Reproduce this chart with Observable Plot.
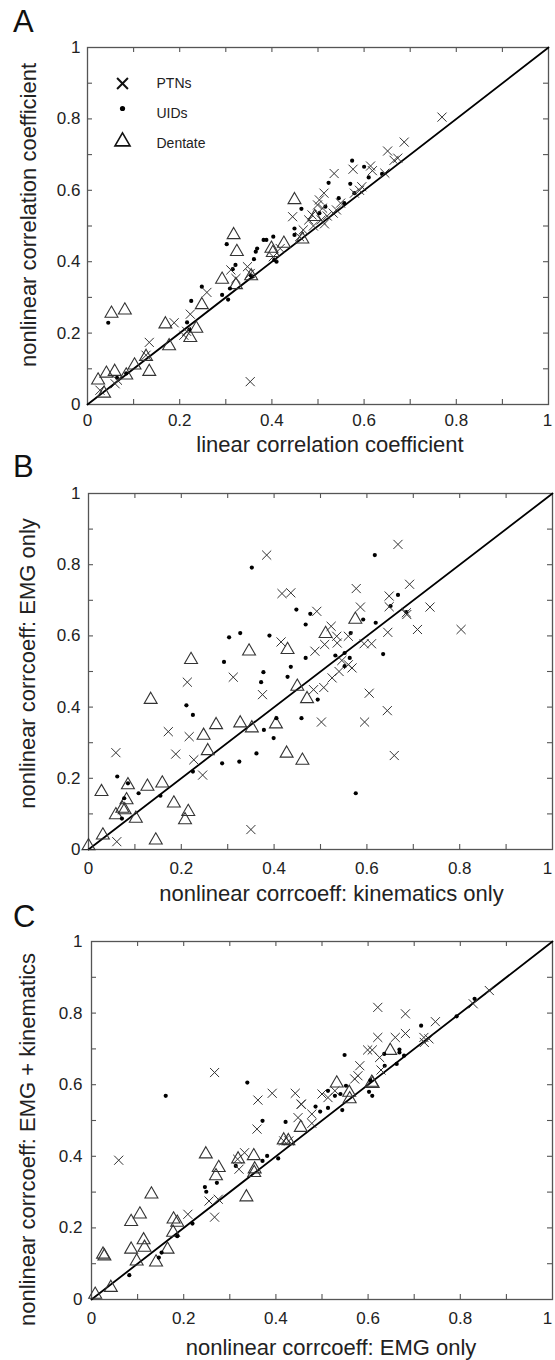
<!DOCTYPE html>
<html><head><meta charset="utf-8">
<script src="https://cdn.jsdelivr.net/npm/d3@7"></script>
<script src="https://cdn.jsdelivr.net/npm/@observablehq/plot@0.6"></script>
<style>
body{margin:0;background:#fff;}
#wrap{position:relative;width:555px;height:1360px;overflow:hidden;font-family:"Liberation Sans",Arial,sans-serif;background:#fff;}
.panel{position:absolute;left:0;}
.letter{position:absolute;font-size:31px;color:#111;line-height:1;}
</style></head><body><div id="wrap"></div>
<script>
// ---------- data ----------
const panelLetters = ["A", "B", "C"];
const xLabels = ["linear correlation coefficient", "nonlinear corrcoeff: kinematics only", "nonlinear corrcoeff: EMG only"];
const yLabels = ["nonlinear correlation coefficient", "nonlinear corrcoeff: EMG only", "nonlinear corrcoeff: EMG + kinematics"];
const legendLabels = ["PTNs", "UIDs", "Dentate"];
const ticksMajor = [0, 0.2, 0.4, 0.6, 0.8];
const ticksEnd = [1];
const ticksMinor = [0.1, 0.2, 0.3, 0.4, 0.5, 0.6, 0.7, 0.8, 0.9];
const diagonal = [0, 1];

// Panel A
const ptnA = [[0.769,0.805],[0.687,0.735],[0.651,0.710],[0.673,0.690],[0.665,0.684],[0.576,0.659],[0.614,0.668],[0.618,0.655],[0.535,0.647],[0.595,0.610],[0.579,0.592],[0.513,0.592],[0.503,0.573],[0.499,0.559],[0.510,0.550],[0.487,0.531],[0.480,0.517],[0.507,0.517],[0.514,0.506],[0.533,0.536],[0.549,0.564],[0.445,0.526],[0.468,0.489],[0.418,0.437],[0.403,0.414],[0.347,0.386],[0.353,0.367],[0.311,0.377],[0.322,0.353],[0.259,0.314],[0.223,0.253],[0.188,0.229],[0.209,0.194],[0.134,0.174],[0.127,0.138],[0.353,0.064],[0.065,0.068],[0.027,0.040],[0.645,0.648],[0.590,0.600],[0.520,0.528],[0.460,0.470],[0.490,0.500],[0.540,0.545],[0.060,0.058],[0.215,0.205]];
const uidA = [[0.574,0.683],[0.600,0.666],[0.610,0.636],[0.639,0.646],[0.523,0.621],[0.570,0.618],[0.545,0.578],[0.516,0.554],[0.464,0.548],[0.503,0.536],[0.449,0.493],[0.449,0.475],[0.403,0.470],[0.382,0.461],[0.388,0.461],[0.302,0.449],[0.368,0.437],[0.365,0.428],[0.361,0.407],[0.410,0.400],[0.321,0.391],[0.315,0.379],[0.357,0.358],[0.309,0.325],[0.248,0.330],[0.292,0.307],[0.305,0.294],[0.225,0.290],[0.216,0.230],[0.221,0.210],[0.045,0.229],[0.064,0.075],[0.084,0.087],[0.579,0.592],[0.557,0.564],[0.405,0.405],[0.354,0.362]];
const dentA = [[0.449,0.573],[0.317,0.475],[0.324,0.428],[0.292,0.350],[0.322,0.335],[0.355,0.360],[0.426,0.451],[0.399,0.437],[0.466,0.463],[0.248,0.279],[0.169,0.225],[0.236,0.213],[0.223,0.187],[0.177,0.164],[0.052,0.255],[0.081,0.264],[0.134,0.092],[0.102,0.110],[0.127,0.134],[0.059,0.092],[0.041,0.087],[0.023,0.068],[0.084,0.082],[0.036,0.031],[0.493,0.526],[0.402,0.425]];

// Panel B
const ptnB = [[0.384,0.827],[0.667,0.857],[0.692,0.745],[0.417,0.719],[0.436,0.721],[0.577,0.733],[0.586,0.681],[0.648,0.712],[0.648,0.682],[0.736,0.681],[0.686,0.660],[0.492,0.669],[0.709,0.618],[0.803,0.618],[0.523,0.627],[0.535,0.599],[0.536,0.580],[0.509,0.576],[0.560,0.599],[0.645,0.610],[0.594,0.578],[0.610,0.578],[0.415,0.583],[0.488,0.557],[0.568,0.510],[0.540,0.500],[0.525,0.482],[0.507,0.455],[0.485,0.449],[0.560,0.519],[0.546,0.531],[0.312,0.484],[0.213,0.470],[0.375,0.435],[0.605,0.439],[0.644,0.390],[0.502,0.358],[0.595,0.358],[0.172,0.331],[0.217,0.317],[0.227,0.252],[0.188,0.268],[0.246,0.209],[0.059,0.272],[0.659,0.264],[0.061,0.022],[0.350,0.056],[0.685,0.665]];
const uidB = [[0.352,0.792],[0.617,0.827],[0.667,0.715],[0.448,0.674],[0.478,0.662],[0.468,0.632],[0.592,0.646],[0.619,0.637],[0.651,0.684],[0.685,0.667],[0.303,0.596],[0.327,0.608],[0.390,0.601],[0.292,0.527],[0.377,0.498],[0.372,0.470],[0.436,0.513],[0.429,0.485],[0.468,0.538],[0.532,0.545],[0.552,0.552],[0.565,0.608],[0.563,0.538],[0.552,0.515],[0.635,0.549],[0.494,0.421],[0.211,0.405],[0.225,0.378],[0.405,0.369],[0.459,0.369],[0.378,0.336],[0.399,0.313],[0.362,0.270],[0.288,0.242],[0.325,0.247],[0.225,0.219],[0.062,0.205],[0.085,0.186],[0.108,0.158],[0.155,0.151],[0.077,0.144],[0.072,0.087],[0.576,0.158]];
const dentB = [[0.575,0.646],[0.511,0.606],[0.429,0.561],[0.346,0.557],[0.221,0.533],[0.134,0.421],[0.450,0.458],[0.471,0.423],[0.275,0.350],[0.327,0.355],[0.352,0.341],[0.404,0.352],[0.248,0.320],[0.257,0.277],[0.427,0.270],[0.461,0.250],[0.028,0.162],[0.085,0.181],[0.127,0.177],[0.159,0.186],[0.082,0.139],[0.078,0.111],[0.059,0.097],[0.102,0.087],[0.184,0.130],[0.215,0.106],[0.208,0.083],[0.145,0.026],[0.031,0.040],[0.000,0.010],[0.073,0.115]];

// Panel C
const ptnC = [[0.621,0.816],[0.681,0.798],[0.621,0.732],[0.659,0.732],[0.681,0.743],[0.599,0.697],[0.609,0.697],[0.746,0.776],[0.721,0.732],[0.732,0.728],[0.722,0.718],[0.863,0.863],[0.828,0.826],[0.625,0.676],[0.582,0.653],[0.578,0.625],[0.571,0.616],[0.628,0.641],[0.267,0.634],[0.392,0.576],[0.442,0.576],[0.361,0.557],[0.455,0.546],[0.500,0.574],[0.359,0.476],[0.448,0.508],[0.478,0.518],[0.528,0.583],[0.513,0.564],[0.332,0.410],[0.317,0.392],[0.320,0.364],[0.267,0.230],[0.255,0.275],[0.209,0.238],[0.275,0.280],[0.059,0.389],[0.417,0.443],[0.428,0.443],[0.478,0.492],[0.455,0.545]];
const uidC = [[0.161,0.569],[0.338,0.606],[0.549,0.683],[0.715,0.765],[0.831,0.840],[0.792,0.791],[0.668,0.698],[0.635,0.686],[0.636,0.653],[0.662,0.658],[0.678,0.681],[0.602,0.580],[0.609,0.569],[0.552,0.597],[0.540,0.574],[0.528,0.569],[0.513,0.583],[0.513,0.535],[0.544,0.529],[0.496,0.525],[0.486,0.539],[0.421,0.496],[0.371,0.499],[0.381,0.401],[0.371,0.387],[0.405,0.394],[0.313,0.373],[0.272,0.326],[0.246,0.314],[0.249,0.301],[0.219,0.212],[0.186,0.177],[0.152,0.131],[0.146,0.117],[0.082,0.068],[0.605,0.612],[0.668,0.690]];
const dentC = [[0.532,0.604],[0.648,0.695],[0.608,0.606],[0.559,0.578],[0.454,0.480],[0.417,0.445],[0.427,0.443],[0.248,0.406],[0.352,0.401],[0.318,0.392],[0.276,0.368],[0.270,0.345],[0.354,0.364],[0.353,0.354],[0.336,0.286],[0.130,0.294],[0.105,0.238],[0.086,0.217],[0.178,0.224],[0.186,0.215],[0.113,0.166],[0.115,0.145],[0.086,0.140],[0.165,0.140],[0.177,0.187],[0.098,0.107],[0.140,0.104],[0.025,0.126],[0.028,0.121],[0.042,0.033],[0.008,0.014],[0.560,0.560],[0.610,0.603]];

// ---------- layout (style) ----------
const panels = [
  {top: 0,   mt: 47, mb: 56, ml: 87, mr: 7, px: 9,  py: 7, endDx: -1, xdx: 12, xdy: 40, ydx: -59, ydy: -11, ptn: ptnA, uid: uidA, dent: dentA, letterTop: 6,   legend: true},
  {top: 450, mt: 43, mb: 61, ml: 88, mr: 3, px: 12, py: 8, endDx: -5, xdx: 11, xdy: 44, ydx: -61, ydy: -8,  ptn: ptnB, uid: uidB, dent: dentB, letterTop: 451, legend: false},
  {top: 900, mt: 41, mb: 61, ml: 91, mr: 3, px: 12, py: 9, endDx: -5, xdx: 9,  xdy: 48, ydx: -64, ydy: 19,  ptn: ptnC, uid: uidC, dent: dentC, letterTop: 901, legend: false}
];

const tickLabel = d => d === 0 ? "0" : d === 1 ? "1" : d3.format(".1f")(d);
const wrap = document.getElementById("wrap");
const W = 555, H = 460, TL = 5;
const ink = "#222";
const FS = 17, TFS = 22;

panels.forEach((p, i) => {
  const fw = W - p.ml - p.mr, fh = H - p.mt - p.mb;
  const marks = [
    Plot.ruleX(ticksMinor, {x: d => d, insetTop: fh - TL, stroke: "#555", strokeWidth: 1.1}),
    Plot.ruleX(ticksMinor, {x: d => d, insetBottom: fh - TL, stroke: "#555", strokeWidth: 1.1}),
    Plot.ruleY(ticksMinor, {y: d => d, insetRight: fw - TL, stroke: "#555", strokeWidth: 1.1}),
    Plot.ruleY(ticksMinor, {y: d => d, insetLeft: fw - TL, stroke: "#555", strokeWidth: 1.1}),
    Plot.frame({stroke: "#555", strokeWidth: 1.3}),
    Plot.axisX(ticksMajor, {tickSize: 0, tickPadding: p.px, tickFormat: tickLabel, label: null, fontSize: FS, fill: ink}),
    Plot.axisX(ticksEnd, {tickSize: 0, tickPadding: p.px, tickFormat: tickLabel, label: null, fontSize: FS, fill: ink, dx: p.endDx}),
    Plot.axisY(ticksMajor.concat(ticksEnd), {tickSize: 0, tickPadding: p.py, tickFormat: tickLabel, label: null, fontSize: FS, fill: ink}),
    Plot.line(diagonal, {x: d => d, y: d => d, stroke: "#000", strokeWidth: 1.8}),
    Plot.dot(p.dent, {x: d => d[0], y: d => d[1], symbol: "triangle", r: 4.8, fill: "none", stroke: "#333", strokeWidth: 1.1}),
    Plot.dot(p.uid, {x: d => d[0], y: d => d[1], symbol: "circle", r: 2.1, fill: "#000", stroke: "none"}),
    Plot.dot(p.ptn, {x: d => d[0], y: d => d[1], symbol: "times", r: 4.2, stroke: "#333", strokeWidth: 1}),
    Plot.text([xLabels[i]], {frameAnchor: "bottom", textAnchor: "middle", lineAnchor: "middle", dx: p.xdx, dy: p.xdy, fontSize: TFS, fill: ink}),
    Plot.text([yLabels[i]], {frameAnchor: "left", textAnchor: "middle", lineAnchor: "middle", dx: p.ydx, dy: p.ydy, rotate: -90, fontSize: TFS, fill: ink})
  ];
  if (p.legend) {
    marks.push(
      Plot.dot([legendLabels[0]], {frameAnchor: "top-left", dx: 35, dy: 36, symbol: "times", r: 5, stroke: "#111", strokeWidth: 2}),
      Plot.dot([legendLabels[1]], {frameAnchor: "top-left", dx: 35, dy: 61, symbol: "circle", r: 2.6, fill: "#000"}),
      Plot.dot([legendLabels[2]], {frameAnchor: "top-left", dx: 35, dy: 94, symbol: "triangle", r: 5.6, fill: "none", stroke: "#111", strokeWidth: 1.6}),
      Plot.text([legendLabels[0]], {frameAnchor: "top-left", dx: 69, dy: 36, textAnchor: "start", lineAnchor: "middle", fontSize: 14, fill: ink}),
      Plot.text([legendLabels[1]], {frameAnchor: "top-left", dx: 69, dy: 66, textAnchor: "start", lineAnchor: "middle", fontSize: 14, fill: ink}),
      Plot.text([legendLabels[2]], {frameAnchor: "top-left", dx: 69, dy: 96, textAnchor: "start", lineAnchor: "middle", fontSize: 14, fill: ink})
    );
  }
  const svg = Plot.plot({
    width: W, height: H,
    marginTop: p.mt, marginBottom: p.mb, marginLeft: p.ml, marginRight: p.mr,
    x: {domain: [0, 1]}, y: {domain: [0, 1]},
    style: {fontFamily: '"Liberation Sans", Arial, sans-serif', fontSize: FS + "px", color: ink, background: "transparent", overflow: "visible"},
    marks
  });
  const div = document.createElement("div");
  div.className = "panel";
  div.style.top = p.top + "px";
  div.appendChild(svg);
  wrap.appendChild(div);
  const letter = document.createElement("div");
  letter.className = "letter";
  letter.style.left = "13px";
  letter.style.top = p.letterTop + "px";
  letter.textContent = panelLetters[i];
  wrap.appendChild(letter);
});
</script></body></html>
